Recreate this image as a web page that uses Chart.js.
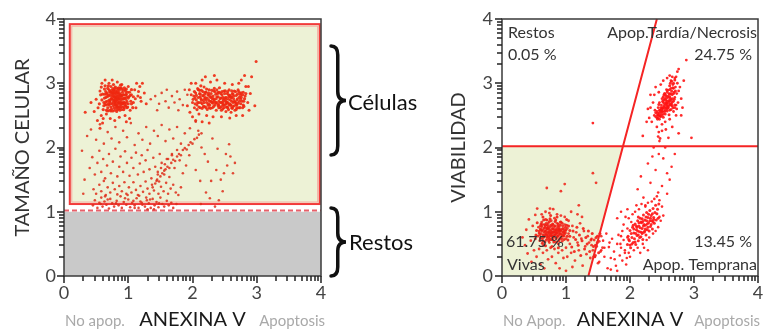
<!DOCTYPE html>
<html>
<head>
<meta charset="utf-8">
<script src="https://cdn.jsdelivr.net/npm/chart.js@4"></script>
<style>
  body{ margin:0; background:#fff; }
  canvas{ position:absolute; top:0; }
</style>
</head>
<body>
<canvas id="sizeChart" width="440" height="330" style="left:0"></canvas>
<canvas id="viabChart" width="323" height="330" style="left:440px"></canvas>
<script>
// events (x,y in hundredths of a decade)
function pts(s){ return s.trim().split(/\s+/).map(p=>{ const [x,y]=p.split(','); return {x:x/100, y:y/100}; }); }

// --- left plot: ANEXINA V vs TAMAÑO CELULAR
const sizeLiveCluster = pts(`
62,270 65,278 67,285 68,262 70,274 70,290 72,268 72,281 73,295 74,260 75,276 75,286 76,270 77,265 77,280 78,290 78,274 79,258 79,283 80,268
80,278 81,288 81,262 82,273 82,281 83,292 83,266 84,277 84,285 85,270 85,260 86,279 86,289 87,267 87,275 88,283 88,262 89,272 89,293 90,280
90,268 91,286 92,275 92,263 93,282 94,270 95,290 95,277 96,265 97,283 98,272 99,286 66,266 69,280 71,258 74,284 76,292 78,262 80,285 82,256
84,291 86,271 88,277 90,259 92,289 94,262 96,275 98,279 100,268 63,283 67,272 71,287 73,276 79,271 81,279 83,275 85,282 87,281 77,273 79,277
81,272 83,279 75,280 50,275 53,262 56,288 58,250 59,300 61,245 64,305 66,252 70,300 72,245 75,305 79,242 83,302 86,247 90,298 95,250 100,295
103,258 105,282 108,270 110,290 112,262 115,280 118,295 120,272 125,285 128,268 52,242 56,230 60,238 47,256 102,245 97,240 113,300 122,300
33,255 42,270 111,276 116,287 119,278`);
const sizeLiveCore = pts(`
61,259 63,291 64,267 66,283 68,257 69,296 71,271 73,263 74,289 76,257 77,298 79,267 80,294 82,264 83,259 85,293 86,263 88,297 89,281 91,269
93,259 94,293 96,287 97,269 99,263 101,279 102,286 104,272 59,274 60,283 62,265 64,296 65,271 67,279 68,292 70,266 72,286 73,257 75,268 77,289
78,279 80,271 81,266 83,287 84,269 86,285 87,258 89,264 90,291 92,282 94,277 95,266 97,291 98,262 100,277 103,281 105,268 65,287 69,268 72,273
76,284 79,292 82,285 84,263 87,292 91,276 93,270 96,282 63,277 66,258 70,282 74,276 78,286 81,275 85,275 88,269 92,268 55,268 57,282 58,294
105,290 107,262 108,279`);
const sizeBetween = pts(`135,275 142,280 148,268 152,285 158,272 163,262 168,280 172,270 176,287 180,275 185,266 188,290 145,258 160,290 178,258 192,282`);
const sizeApopCluster = pts(`
200,270 202,280 203,262 205,285 206,274 207,266 208,292 209,278 210,270 211,284 212,262 213,276 214,289 215,268 216,281 217,273 218,294 219,264
220,278 221,286 222,270 223,259 224,282 225,274 226,290 227,266 228,278 229,284 230,270 231,262 232,280 233,288 234,274 235,266 236,283 237,276
238,290 239,268 240,279 241,272 242,286 243,262 244,277 245,270 246,282 247,260 248,274 249,288 250,266 251,278 252,256 253,271 254,284 255,262
256,275 257,290 258,268 259,280 260,255 261,272 262,284 263,264 264,276 265,288 266,258 267,270 268,281 269,266 270,276 271,290 272,262 273,272
274,284 275,268 276,278 278,262 279,286 280,272 282,280 243,270 247,268 251,272 255,270 259,274 263,270 257,266 253,278 249,276 245,264 241,266
237,270 233,276 229,272 225,268 221,274 217,280 213,270 261,262 265,272 269,274 252,268 256,282 260,278 195,290 198,300 192,265 196,255 200,248
205,300 210,252 215,305 222,250 228,302 232,248 238,305 245,248 250,300 258,246 262,298 268,250 272,300 278,250 283,295 286,270 288,258 290,284
276,305 281,312 287,295 297,265 299,334 292,310 205,242 215,240 226,238 198,282 220,310 234,312`);
const sizeApopCore = pts(`
201,275 203,287 204,268 206,281 207,259 209,290 210,263 212,279 213,296 215,261 216,287 218,270 219,283 221,262 222,291 224,266 225,285 227,272
228,261 230,289 231,276 233,264 234,292 236,270 237,258 239,284 240,265 242,293 243,276 245,258 246,287 247,271 249,262 250,284 252,275 253,263
255,287 256,259 258,281 259,266 261,288 262,261 264,280 265,265 267,287 268,259 270,283 271,269 273,278 274,262 276,285 277,272 279,266 281,276
283,284 204,277 208,270 211,289 214,274 217,264 220,286 223,277 226,262 229,279 232,269 235,287 238,279 241,262 244,284 248,266 251,288 254,269
257,279 260,266 263,283 266,271 269,262 272,287 275,275 278,282 280,264 212,283 219,276 226,281 233,272 240,286 247,278 254,263 261,278 268,267
275,281`);
const sizeSmallEvents = pts(`
45,110 48,118 52,106 55,114 58,122 60,108 63,116 66,111 70,105 72,120 75,113 78,108 82,117 85,110 88,124 90,106 93,115 97,111 100,119 103,107
106,114 110,110 113,121 116,106 119,116 122,111 126,108 129,118 132,113 135,106 138,120 141,110 144,115 147,107 150,122 153,112 156,108 160,117
163,110 167,114 170,106 175,112 110,106 130,104 140,104 46,135 50,128 55,142 58,132 62,148 65,126 68,138 72,130 76,145 79,135 83,127 86,140
90,132 94,146 97,128 101,138 105,130 108,146 112,134 115,126 119,140 123,131 127,147 130,136 133,128 137,142 140,133 144,148 147,128 151,139
155,132 159,145 162,128 166,136 170,142 174,130 178,126 182,138 40,168 44,185 48,158 52,176 55,195 58,162 61,182 64,152 67,172 70,190 73,160
76,178 80,198 83,155 86,170 88,186 92,162 95,194 98,176 102,156 105,184 108,168 112,192 115,158 118,175 121,188 124,162 127,180 130,196 133,166
136,152 139,184 142,170 146,158 149,190 152,176 156,164 160,182 164,154 168,190 172,168 176,196 180,180 185,160 190,172 195,188 138,138 142,144
145,150 148,147 150,155 153,160 156,158 158,166 161,170 164,168 167,176 170,181 173,179 176,186 179,190 182,188 185,196 188,199 191,197 194,204
197,208 200,206 203,213 207,215 210,220 214,222 146,162 151,168 157,174 162,182 168,188 36,218 42,228 50,212 56,236 62,206 68,224 74,214 80,232
86,208 92,226 98,216 104,238 110,204 116,222 122,212 128,232 134,206 140,226 146,218 152,235 158,210 164,228 170,214 176,232 182,206 188,222
196,230 205,240 209,226 214,200 219,190 224,178 231,214 239,198 237,165 244,150 249,160 254,172 259,186 263,160 229,148 221,130 247,132 241,118
227,121 213,112 235,108 257,205 266,176 252,190 205,165 212,148 28,195 32,150 30,128 57,112 68,119 81,113 95,121 108,117 121,114 134,119 148,113
117,125 128,122 99,126 64,124`);

// gates of the left plot (axis values)
const cellGate = [0.09, 1.12, 3.98, 3.92];   // xmin, ymin, xmax, ymax
const debrisBand = [0, 0, 4, 1.0];
const debrisCut = 1.02;

// --- right plot: ANEXINA V vs VIABILIDAD
const viabLive = pts(`
56,62 58,70 59,55 60,78 61,66 62,84 63,58 64,72 65,48 66,80 67,64 68,88 69,56 70,74 71,68 72,82 73,60 74,52 75,76 76,70 77,86 78,62 79,74 80,56
80,80 81,68 82,90 83,64 84,72 85,58 86,82 87,70 88,50 89,76 90,66 91,84 92,60 93,72 94,54 95,78 96,68 97,62 98,80 99,70 100,58 102,74 104,66
57,76 59,64 61,72 63,80 65,60 67,70 69,82 71,58 73,68 75,62 77,72 79,66 81,60 83,78 85,66 87,62 89,68 91,72 93,66 95,62 97,72 70,64 74,70 78,68
82,72 86,74 72,76 76,64 80,62 84,66 88,72 78,78 74,58 90,58 66,74 32,60 36,48 38,72 40,35 42,88 45,55 46,22 48,78 50,40 52,95 54,30 55,105 58,42
60,18 62,96 64,36 66,12 68,100 70,40 72,26 74,98 76,44 78,30 80,104 82,42 84,20 86,96 88,36 90,12 92,94 94,40 96,28 98,92 100,44 102,30 104,86
106,50 108,36 110,78 112,60 114,24 116,68 118,52 120,40 122,82 124,58 126,16 128,70 130,46 132,34 134,62 136,52 138,28 140,48 142,40 144,56
146,32 148,46 150,20 152,54 154,38 155,62 157,44 108,100 118,96 125,92 110,14 100,8 70,137 98,143 92,132 142,160 147,145 120,110 75,105`);
const viabLiveCore = pts(`
58,67 60,59 62,77 64,64 65,87 67,53 69,71 71,79 72,63 74,85 76,57 77,67 79,81 81,53 82,64 84,87 86,61 87,78 89,55 90,71 92,84 94,63 95,74 97,57
99,67 101,79 60,73 63,51 66,68 68,79 70,61 73,73 75,89 78,57 80,69 83,85 85,71 88,63 91,79 93,58 96,69 99,76 102,62 61,81 64,55 67,76 70,87
73,55 76,79 79,61 82,77 85,53 88,81 91,65 94,82 97,65 100,72 62,70 66,62 69,66 71,74 74,66 77,63 80,73 83,69 86,67 89,73 92,70 106,62 109,45
111,70 113,38 115,57 117,76 119,48 121,64 123,32 125,55 127,74 129,42 131,60 133,50 135,70 137,38 139,56 141,66 143,46 145,30 147,60 149,52
151,36 153,66 52,58 54,71 55,83 53,64 104,78 106,71 103,56 101,88 68,47 78,46 88,44 64,92 76,94 86,92`);
const viabBridge = pts(`
140,58 143,30 146,48 149,62 152,22 155,40 158,55 160,30 163,66 165,12 167,45 170,28 172,58 175,38 178,16 180,50 182,64 184,32 186,44 188,24
190,56 192,40 194,18 196,60 198,36 200,48 160,44 168,52 176,26 186,62 195,28 170,10 180,8`);
const viabEarlyCore = pts(`
196,49 197,62 199,55 200,71 201,44 203,60 204,76 205,52 206,67 207,58 208,81 209,49 210,72 211,63 212,86 213,55 214,78 215,69 216,90 217,61
218,83 219,74 220,57 221,95 222,68 223,87 224,79 225,64 226,99 227,72 228,91 229,83 230,70 231,102 232,77 233,94 234,86 235,73 236,105 237,91
238,82 239,99 240,110 241,87 242,97 243,104 244,90 245,112 198,57 202,66 205,79 208,53 211,76 213,92 215,60 217,84 219,66 221,78 223,70 225,92
227,81 229,96 231,86 233,80 235,97 237,88 209,66 212,70 216,75 218,68 220,85 222,80 224,73 226,86 228,76 214,83 210,78 206,73 203,50 232,90
236,84 219,89 213,64`);
const viabEarlyEdge = pts(`
185,50 188,70 190,80 192,36 193,92 196,74 198,90 200,30 202,84 204,96 206,40 208,100 210,110 212,44 214,104 216,36 218,112 220,50 224,108
226,56 228,114 230,60 234,116 236,66 238,120 240,70 242,124 244,76 246,118 248,86 250,108 252,94 228,40 222,44 180,90 186,100 196,104 246,92
235,186 245,190 217,155 252,183 240,165 265,170 250,140 232,145 258,128 244,130 221,122 262,150 237,200 228,175 255,200 246,210 270,190
212,135 258,160 224,110`);
const viabLate = pts(`
240,248 242,256 243,250 244,262 245,254 246,270 247,258 248,248 249,266 250,276 251,260 252,252 253,282 254,268 255,258 256,274 257,290 258,264
259,280 260,270 261,284 262,258 263,276 264,292 265,268 266,282 267,298 268,272 269,286 270,278 271,294 272,266 273,284 274,300 246,250 250,256
254,262 258,268 262,272 256,280 252,270 260,278 264,274 248,262 244,246 256,266 258,260 262,266 266,276 250,250 254,276 260,262 248,256 252,262
256,270 264,284 258,286 262,290 268,292 238,250 240,254 242,246 244,250 246,244 239,258 243,244 230,246 232,262 234,240 236,270 238,282 240,294
242,232 245,286 248,298 250,236 252,304 255,240 258,308 262,244 264,304 268,256 270,262 272,250 275,270 276,288 278,294 280,276 282,262 284,304
266,310 270,308 262,312 274,318 272,310 288,336 276,322 250,226 256,228 266,232 245,224 260,215 226,240 220,218 228,260 232,282 142,238 244,217
247,214 276,222 296,215 273,260 280,250`);
const viabLateCore = pts(`
243,253 245,267 247,249 249,259 251,272 252,247 253,265 254,284 255,252 257,277 258,257 259,289 260,265 261,251 262,279 263,268 264,259 265,288
266,271 267,262 268,284 269,275 270,266 271,288 258,272 256,262 254,256 250,262 246,258 253,274 261,273 264,266 259,262 255,283 251,256 257,269
262,283 266,265 248,253 252,279 262,296 265,303 268,300 270,305 267,293 263,300`);

// gates of the right plot
const viabCut = 2.02;
const annexLine = [[1.35, 0], [2.42, 4]];
const quadNames = ['Restos', 'Apop.Tardía/Necrosis', 'Vivas', 'Apop. Temprana'];
const quadPcts = ['0.05 %', '24.75 %', '61.75 %', '13.45 %'];

const minorSteps = [2,3,4,5,6,7,8,9];

// frame + log style tick marks
const logTicks = {
  id:'logTicks',
  afterDraw(chart){
    const {ctx, chartArea:a, scales:{x, y}} = chart;
    ctx.save();
    ctx.strokeStyle = '#3a3a3a'; ctx.lineWidth = 1.5;
    ctx.strokeRect(a.left, a.top, a.right-a.left, a.bottom-a.top);
    ctx.fillStyle = '#222';
    for(let d=0; d<=4; d++){
      const marks = [[d, 6]];
      if(d<4) minorSteps.forEach(k=>marks.push([d+Math.log10(k), 4]));
      marks.forEach(([v,len])=>{
        const px = Math.round(x.getPixelForValue(v));
        ctx.fillRect(px-0.75, a.bottom, 1.5, len+1);
        const py = Math.round(y.getPixelForValue(v));
        ctx.fillRect(a.left-len-1, py-0.75, len+1, 1.5);
      });
    }
    ctx.restore();
  }
};

function sideLabels(chart, left, right, rightPad){
  const {ctx, chartArea:a} = chart;
  ctx.save();
  ctx.font = '15px Lato'; ctx.fillStyle = '#a9a9a9'; ctx.textBaseline = 'alphabetic';
  ctx.textAlign = 'left'; ctx.fillText(left, a.left+1, 326);
  ctx.textAlign = 'right'; ctx.fillText(right, a.right+rightPad, 326);
  ctx.restore();
}

function brace(ctx, x, top, bot, w){
  const mid = (top+bot)/2, r = 9, c = x + w*0.45;
  ctx.beginPath();
  ctx.moveTo(x, top);
  ctx.quadraticCurveTo(c, top, c, top+r);
  ctx.lineTo(c, mid-r);
  ctx.quadraticCurveTo(c, mid, x+w, mid);
  ctx.quadraticCurveTo(c, mid, c, mid+r);
  ctx.lineTo(c, bot-r);
  ctx.quadraticCurveTo(c, bot, x, bot);
  ctx.stroke();
}

const sizeGates = {
  id:'sizeGates',
  beforeDatasetsDraw(chart){
    const {ctx, scales:{x, y}} = chart;
    ctx.save();
    ctx.fillStyle = '#c9c9c9';
    ctx.fillRect(x.getPixelForValue(debrisBand[0]), y.getPixelForValue(debrisBand[3]),
      x.getPixelForValue(debrisBand[2]) - x.getPixelForValue(debrisBand[0]), y.getPixelForValue(debrisBand[1]) - y.getPixelForValue(debrisBand[3]));
    const gx = x.getPixelForValue(cellGate[0]), gy = y.getPixelForValue(cellGate[3]);
    const gw = x.getPixelForValue(cellGate[2]) - gx, gh = y.getPixelForValue(cellGate[1]) - gy;
    ctx.fillStyle = '#edf2d6';
    ctx.fillRect(gx, gy, gw, gh);
    ctx.strokeStyle = '#f23a3a'; ctx.lineWidth = 2;
    ctx.strokeRect(gx, gy, gw, gh);
    ctx.strokeStyle = '#f7a8a0'; ctx.lineWidth = 1;
    ctx.strokeRect(gx+2, gy+2, gw-4, gh-4);
    ctx.strokeStyle = '#e8606a'; ctx.lineWidth = 2; ctx.setLineDash([5,3]);
    ctx.beginPath();
    ctx.moveTo(x.getPixelForValue(0), y.getPixelForValue(debrisCut));
    ctx.lineTo(x.getPixelForValue(4), y.getPixelForValue(debrisCut));
    ctx.stroke();
    ctx.restore();
  },
  afterDraw(chart){
    const {ctx} = chart;
    sideLabels(chart, 'No apop.', 'Apoptosis', 4);
    ctx.save();
    ctx.strokeStyle = '#111'; ctx.lineWidth = 3.5; ctx.lineCap = 'round';
    brace(ctx, 331, 46, 155, 15);
    brace(ctx, 331, 208, 276, 15);
    ctx.font = '22px Lato'; ctx.fillStyle = '#111';
    ctx.fillText('Células', 348, 110);
    ctx.fillText('Restos', 349, 250);
    ctx.restore();
  }
};

const viabGates = {
  id:'viabGates',
  beforeDatasetsDraw(chart){
    const {ctx, scales:{x, y}} = chart;
    const [p0, p1] = annexLine;
    const xAt = v => p0[0] + (p1[0]-p0[0]) * (v-p0[1]) / (p1[1]-p0[1]);
    ctx.save();
    ctx.fillStyle = '#edf2d6';
    ctx.beginPath();
    ctx.moveTo(x.getPixelForValue(0), y.getPixelForValue(0));
    ctx.lineTo(x.getPixelForValue(xAt(0)), y.getPixelForValue(0));
    ctx.lineTo(x.getPixelForValue(xAt(viabCut)), y.getPixelForValue(viabCut));
    ctx.lineTo(x.getPixelForValue(0), y.getPixelForValue(viabCut));
    ctx.closePath(); ctx.fill();
    ctx.restore();
  },
  afterDatasetsDraw(chart){
    const {ctx, chartArea:a, scales:{x, y}} = chart;
    const [p0, p1] = annexLine;
    ctx.save();
    ctx.strokeStyle = '#f52424'; ctx.lineWidth = 2;
    ctx.beginPath();
    ctx.moveTo(x.getPixelForValue(0), y.getPixelForValue(viabCut));
    ctx.lineTo(x.getPixelForValue(4), y.getPixelForValue(viabCut));
    ctx.moveTo(x.getPixelForValue(p0[0]), y.getPixelForValue(p0[1]));
    ctx.lineTo(x.getPixelForValue(p1[0]), y.getPixelForValue(p1[1]));
    ctx.stroke();
    ctx.font = '16px Lato'; ctx.fillStyle = '#333';
    ctx.textAlign = 'left';
    ctx.fillText(quadNames[0], a.left+6, a.top+19);
    ctx.fillText(quadPcts[0], a.left+6, a.top+41);
    ctx.fillText(quadPcts[2], a.left+4, a.bottom-29);
    ctx.fillText(quadNames[2], a.left+5, a.bottom-6);
    ctx.textAlign = 'right';
    ctx.fillText(quadNames[1], a.right-1, a.top+19);
    ctx.fillText(quadPcts[1], a.right-6, a.top+41);
    ctx.fillText(quadPcts[3], a.right-6, a.bottom-29);
    ctx.fillText(quadNames[3], a.right-1, a.bottom-6);
    ctx.restore();
  },
  afterDraw(chart){ sideLabels(chart, 'No Apop.', 'Apoptosis', 2); }
};

function scales(yTitle, yWidth, yTickPad, yTitlePad){
  const tickFont = {family:'Lato', size:18};
  const titleFont = {family:'Lato', size:20, lineHeight:1};
  return {
    x: {
      type:'linear', min:0, max:4,
      ticks:{ stepSize:1, padding:6, color:'#444', font:tickFont, maxRotation:0, autoSkip:false },
      grid:{ display:false, drawTicks:false }, border:{ display:false },
      title:{ display:true, text:'ANEXINA V', color:'#1a1a1a', font:titleFont, padding:0 },
      afterFit(s){ s.height = 54; s.paddingLeft = 0; s.paddingRight = 0; }
    },
    y: {
      type:'linear', min:0, max:4,
      ticks:{ stepSize:1, padding:yTickPad, color:'#444', font:tickFont },
      grid:{ display:false, drawTicks:false }, border:{ display:false },
      title:{ display:true, text:yTitle, color:'#333', font:titleFont, padding:{top:yTitlePad, bottom:0} },
      afterFit(s){ s.width = yWidth; s.paddingTop = 0; s.paddingBottom = 0; }
    }
  };
}

function dots(data, color, r){
  return { data, pointRadius:r || 1.3, pointBorderWidth:0, pointBackgroundColor:color, pointHoverRadius:0 };
}

const common = { responsive:false, animation:false, events:[],
  plugins:{ legend:{display:false}, tooltip:{enabled:false} } };

new Chart(document.getElementById('sizeChart'), {
  type:'scatter',
  data:{ datasets:[
    dots(sizeSmallEvents, 'rgba(222,45,25,0.85)'),
    dots(sizeBetween, 'rgba(222,45,25,0.85)'),
    dots(sizeLiveCluster, 'rgba(238,40,15,0.9)', 1.5),
    dots(sizeLiveCore, 'rgba(240,40,15,0.9)', 1.6),
    dots(sizeApopCluster, 'rgba(238,40,15,0.9)', 1.5),
    dots(sizeApopCore, 'rgba(240,40,15,0.9)', 1.6)
  ]},
  options:{ ...common, layout:{ padding:{ left:0, top:19, right:119, bottom:0 } },
    scales: scales('TAMAÑO CELULAR', 64, 8, 13) },
  plugins:[sizeGates, logTicks]
});

new Chart(document.getElementById('viabChart'), {
  type:'scatter',
  data:{ datasets:[
    dots(viabLive, 'rgba(240,30,20,0.85)', 1.4),
    dots(viabLiveCore, 'rgba(242,30,20,0.9)', 1.5),
    dots(viabBridge, 'rgba(255,20,20,0.9)'),
    dots(viabEarlyEdge, 'rgba(255,20,20,0.9)'),
    dots(viabEarlyCore, 'rgba(255,20,20,0.9)', 1.5),
    dots(viabLate, 'rgba(255,20,20,0.9)', 1.4),
    dots(viabLateCore, 'rgba(255,20,20,0.9)', 1.5)
  ]},
  options:{ ...common, layout:{ padding:{ left:0, top:19, right:5, bottom:0 } },
    scales: scales('VIABILIDAD', 62, 9, 9) },
  plugins:[viabGates, logTicks]
});
</script>
</body>
</html>
